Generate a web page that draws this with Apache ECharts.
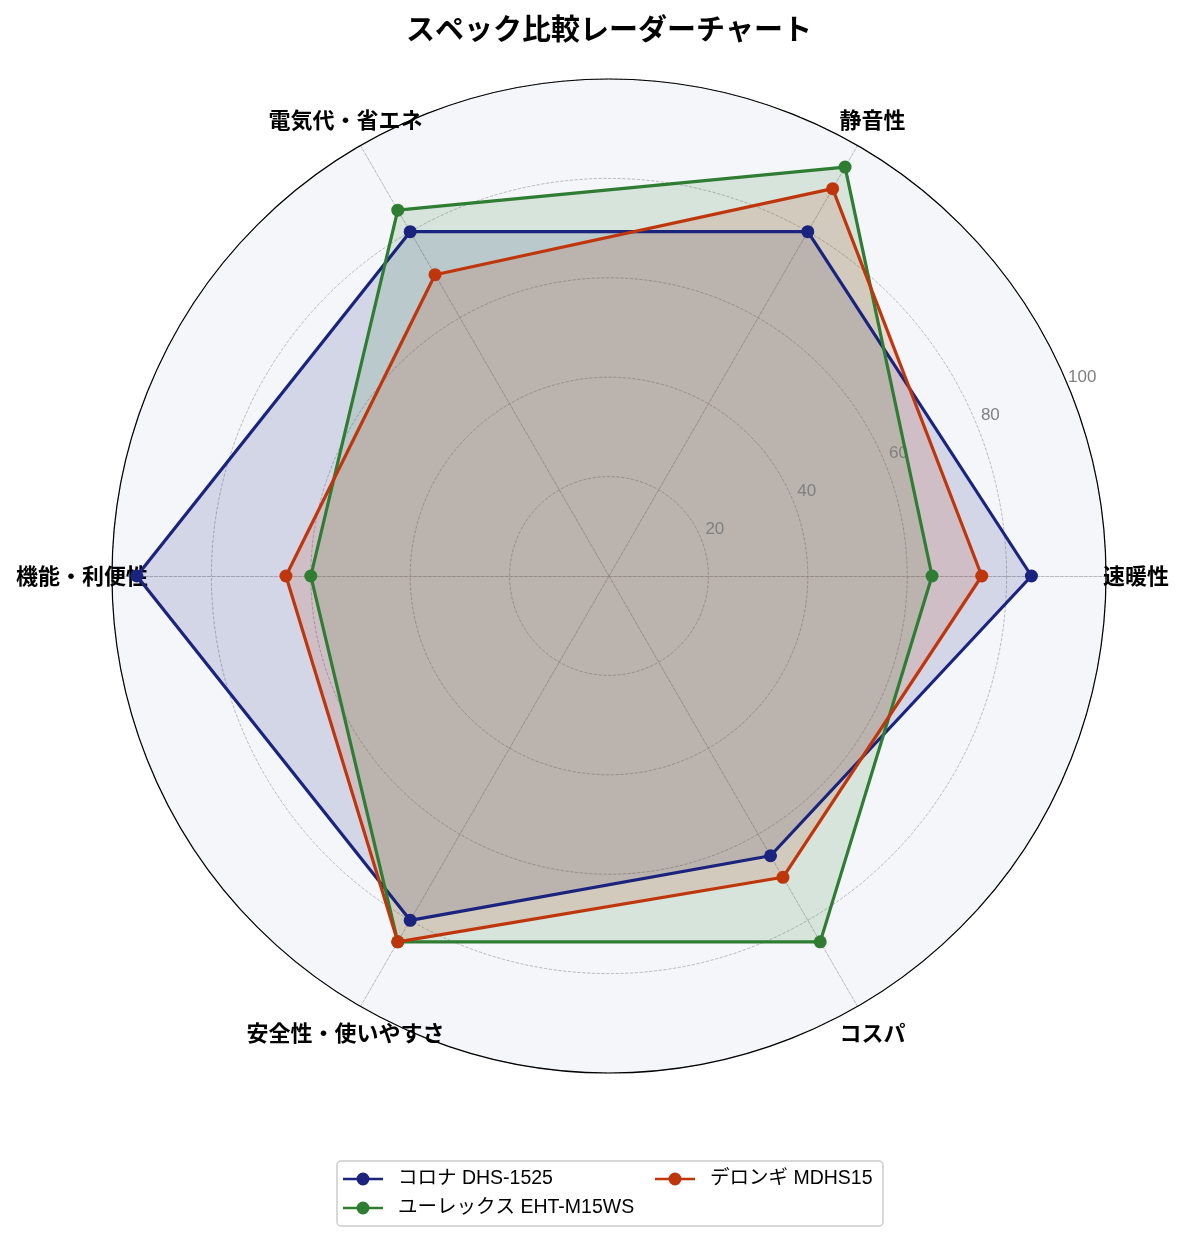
<!DOCTYPE html>
<html>
<head>
<meta charset="utf-8">
<script src="https://cdn.jsdelivr.net/npm/echarts@6/dist/echarts.min.js"></script>
<style>
html, body { margin: 0; padding: 0; background: #fff; }
#main { width: 1185px; height: 1239px; }
</style>
</head>
<body>
<div id="main"></div>
<script>
// 軸（反時計回り、右から）
var axes = ['速暖性', '静音性', '電気代・省エネ', '機能・利便性', '安全性・使いやすさ', 'コスパ'];
var radialTicks = [0, 20, 40, 60, 80, 100];

var corona = [85, 80, 80, 95, 80, 65];
var eurex = [65, 95, 85, 60, 85, 85];
var delonghi = [75, 90, 70, 65, 85, 70];

var names = ['コロナ DHS-1525', 'ユーレックス EHT-M15WS', 'デロンギ MDHS15'];
var colors = ['#1a237e', '#2e7d32', '#bf360c'];
var values = [corona, eurex, delonghi];

var font = '"Noto Sans CJK JP", "Noto Sans", sans-serif';
var latinFont = '"Liberation Sans", "Noto Sans CJK JP", sans-serif';
var cx = 609, cy = 576, R = 497;
// legend icon: line with a round marker
var lineIcon = 'path://M0,5.2L40,5.2L40,7.8L0,7.8Z M13.5,6.5a6.5,6.5 0 1,1 13,0a6.5,6.5 0 1,1 -13,0Z';

var myChart = echarts.init(document.getElementById('main'));

var series = [];
// fills first (under every line, like matplotlib)
for (var i = 0; i < names.length; i++) {
    series.push({
        name: names[i],
        type: 'radar',
        symbol: 'none',
        z: 2,
        silent: true,
        lineStyle: { width: 0, opacity: 0 },
        itemStyle: { color: colors[i] },
        areaStyle: { color: colors[i], opacity: 0.15 },
        data: [{ name: names[i], value: values[i] }]
    });
}
for (var j = 0; j < names.length; j++) {
    series.push({
        name: names[j],
        type: 'radar',
        symbol: 'circle',
        symbolSize: 13,
        z: 3 + j,
        lineStyle: { color: colors[j], width: 3.2 },
        itemStyle: { color: colors[j] },
        data: [{ name: names[j], value: values[j] }]
    });
}

var option = {
    backgroundColor: '#ffffff',
    textStyle: { fontFamily: font },
    title: {
        text: 'スペック比較レーダーチャート',
        left: 604,
        textAlign: 'center',
        top: 9,
        textStyle: { fontSize: 29, fontWeight: 'bold', color: '#000', fontFamily: font }
    },
    legend: {
        data: [
            { name: names[0], icon: lineIcon, textStyle: { width: 248 } },
            { name: names[2], icon: lineIcon, textStyle: { width: 165 } },
            { name: names[1], icon: lineIcon, textStyle: { width: 248 } }
        ],
        left: 337,
        top: 1161,
        width: 560,
        orient: 'horizontal',
        itemWidth: 40,
        itemHeight: 13,
        itemGap: 9,
        padding: [8, 8, 8, 6],
        borderColor: '#cccccc',
        borderWidth: 1.5,
        borderRadius: 4,
        textStyle: { fontSize: 19.5, color: '#000', fontFamily: latinFont, lineHeight: 20, padding: [0, 0, 0, 10] }
    },
    polar: {
        center: [cx, cy],
        radius: R
    },
    angleAxis: {
        type: 'value',
        min: 0,
        max: 360,
        startAngle: 22.5,
        axisLine: { show: true, lineStyle: { color: '#000', width: 1.2 } },
        axisTick: { show: false },
        axisLabel: { show: false },
        splitLine: { show: false },
        z: 2
    },
    radiusAxis: {
        type: 'value',
        min: 0,
        max: 100,
        interval: 20,
        axisLine: { show: false },
        axisTick: { show: false },
        splitLine: { show: false },
        axisLabel: {
            margin: 0,
            rotate: 0,
            align: 'center',
            verticalAlign: 'bottom',
            padding: [0, 0, 0, 28],
            color: '#808080',
            fontSize: 17,
            fontFamily: latinFont,
            formatter: function (v) { return v === 0 ? '' : String(v); }
        },
        z: 2
    },
    radar: {
        center: [cx, cy],
        radius: R,
        startAngle: 0,
        shape: 'circle',
        splitNumber: 5,
        indicator: axes.map(function (a) { return { name: a, min: 0, max: 100 }; }),
        axisNameGap: 30,
        axisName: {
            color: '#000',
            fontSize: 22,
            fontWeight: 'bold',
            fontFamily: font,
            align: 'center',
            verticalAlign: 'middle'
        },
        axisLine: { lineStyle: { color: '#aaa', type: 'dashed', width: 0.8 } },
        splitLine: { lineStyle: { color: '#aaa', type: 'dashed', width: 0.8 } },
        splitArea: { show: true, areaStyle: { color: ['#f4f6fa'] } }
    },
    series: series
};

myChart.setOption(option);
window.onresize = myChart.resize;
</script>
</body>
</html>
